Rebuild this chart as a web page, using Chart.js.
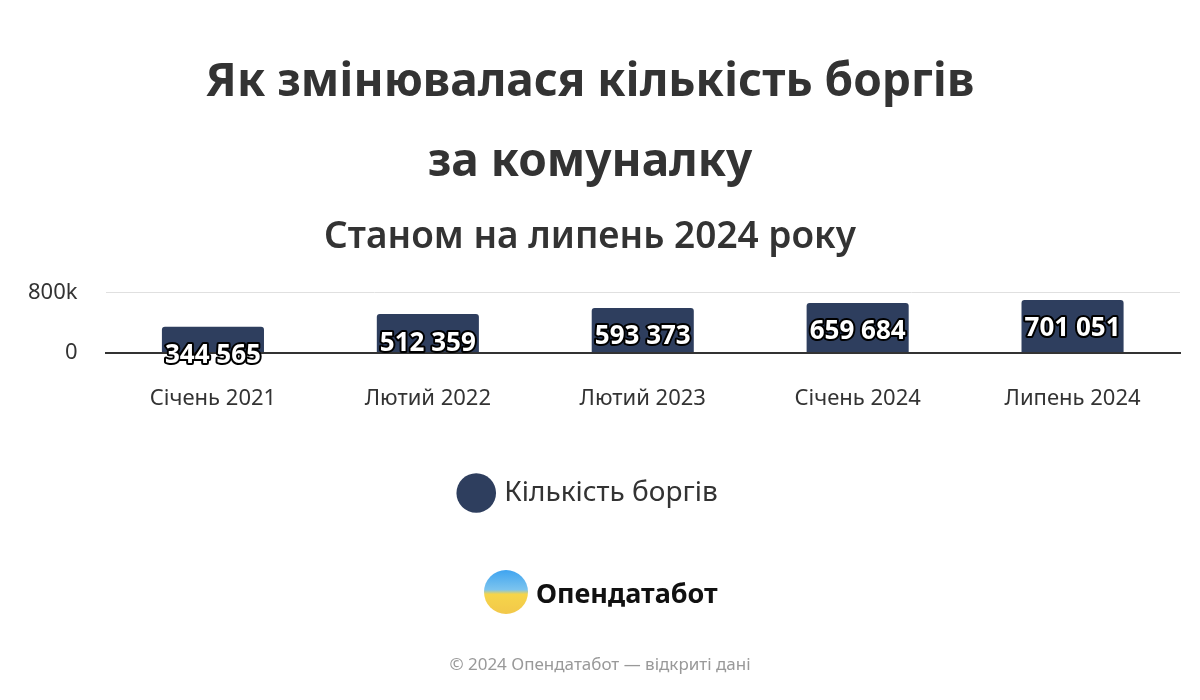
<!DOCTYPE html>
<html>
<head>
<meta charset="utf-8">
<script src="https://cdn.jsdelivr.net/npm/chart.js@4"></script>
<style>
  body { margin: 0; background: #fff; font-family: 'Noto Sans', sans-serif; }
  #wrap { position: relative; width: 1200px; height: 700px; }
  .logo { position: absolute; left: 484px; top: 570px; display: flex; align-items: center; }
  .logo .dot { width: 44px; height: 44px; border-radius: 50%;
    background: linear-gradient(180deg, #3fa4f0 0%, #7cc4ee 45%, #f6d54a 55%, #f2c84a 100%); }
  .logo span { font-size: 27px; font-weight: 700; color: #111; margin-left: 8px; }
  .foot { position: absolute; left: 0; width: 1200px; top: 652px; text-align: center;
    font-size: 17px; color: #999; }
</style>
</head>
<body>
<div id="wrap">
  <canvas id="myChart" width="1200" height="700"></canvas>
  <div class="logo"><div class="dot"></div><span>Опендатабот</span></div>
  <div class="foot">© 2024 Опендатабот — відкриті дані</div>
</div>
<script>
const categories = ['Січень 2021', 'Лютий 2022', 'Лютий 2023', 'Січень 2024', 'Липень 2024'];
const debts = [344565, 512359, 593373, 659684, 701051];
const barColor = '#2e3e5e';

const fmt = v => String(v).replace(/\B(?=(\d{3})+(?!\d))/g, ' ');

const valueLabels = {
  id: 'valueLabels',
  afterDatasetsDraw(chart) {
    const { ctx } = chart;
    chart.getDatasetMeta(0).data.forEach((bar, i) => {
      ctx.save();
      ctx.font = 'bold 26px "Noto Sans"';
      ctx.textAlign = 'center';
      ctx.textBaseline = 'middle';
      ctx.lineWidth = 4;
      ctx.lineJoin = 'round';
      ctx.strokeStyle = '#000';
      ctx.strokeText(fmt(debts[i]), bar.x, bar.y + 29);
      ctx.fillStyle = '#fff';
      ctx.fillText(fmt(debts[i]), bar.x, bar.y + 29);
      ctx.restore();
    });
  },
};

const ctx = document.querySelector('#myChart').getContext('2d');
new Chart(ctx, {
  type: 'bar',
  data: {
    labels: categories,
    datasets: [{
      label: 'Кількість боргів',
      data: debts,
      backgroundColor: barColor,
      borderRadius: { topLeft: 3, topRight: 3 },
      borderSkipped: 'bottom',
      barPercentage: 0.95,
      categoryPercentage: 0.5,
    }],
  },
  options: {
    responsive: false,
    animation: false,
    layout: { padding: { left: 0, right: 20, bottom: 183 } },
    plugins: {
      title: {
        display: true,
        text: ['Як змінювалася кількість боргів', 'за комуналку'],
        color: '#333',
        font: { family: 'Noto Sans', size: 46, weight: 'bold', lineHeight: 1.74 },
        padding: { top: 43, bottom: 6 },
      },
      subtitle: {
        display: true,
        text: 'Станом на липень 2024 року',
        color: '#333',
        font: { family: 'Noto Sans', size: 37, weight: '600' },
        padding: { top: 6, bottom: 33 },
      },
      legend: {
        position: 'bottom',
        labels: {
          usePointStyle: true,
          pointStyle: 'circle',
          boxWidth: 30,
          boxHeight: 30,
          padding: 42,
          color: '#333',
          font: { family: 'Noto Sans', size: 28 },
        },
      },
      tooltip: { enabled: false },
    },
    scales: {
      x: {
        grid: { display: false },
        border: { color: '#333', width: 2 },
        ticks: { color: '#333', font: { family: 'Noto Sans', size: 22 }, padding: 25 },
      },
      y: {
        min: 0,
        max: 800000,
        grid: { color: '#e0e0e0', drawTicks: false },
        border: { display: false },
        ticks: {
          stepSize: 800000,
          padding: 28,
          color: '#333',
          font: { family: 'Noto Sans', size: 22 },
          callback: v => (v === 0 ? '0' : v / 1000 + 'k'),
        },
      },
    },
  },
  plugins: [valueLabels],
});
</script>
</body>
</html>
